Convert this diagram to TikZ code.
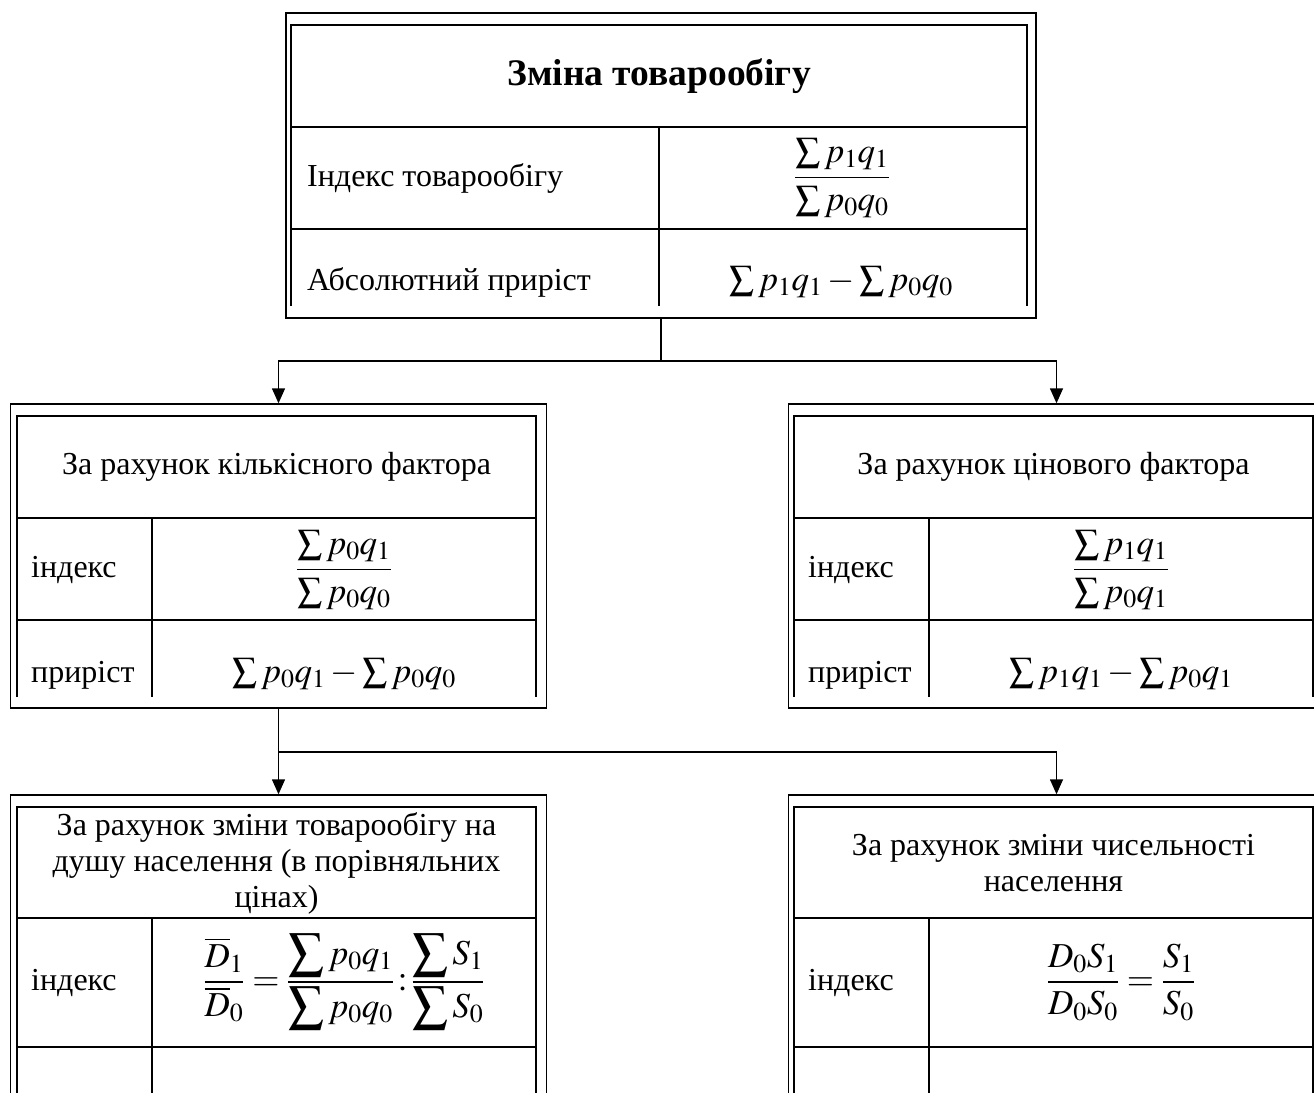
\documentclass[tikz,border=0pt]{standalone}
\usepackage{amsmath}
\usepackage{mathptmx}
\usepackage{fontspec}
\setmainfont{Liberation Serif}
\usetikzlibrary{arrows.meta}

\tikzset{
  frame/.style={draw, line width=1.4pt, inner sep=0pt, minimum width=536pt},
  tab/.style={line width=1.8pt},
  arr/.style={line width=1.4pt, -{Triangle[length=15pt,width=13pt]}},
  txt/.style={font=\fontsize{32}{36}\selectfont, inner sep=0pt},
  mth/.style={font=\fontsize{35}{40}\selectfont, inner sep=0pt},
}

\begin{document}
\begin{tikzpicture}[x=1pt,y=-1pt]
\useasboundingbox (0,0) rectangle (1314,1092);
\clip (0,0) rectangle (1314,1092);

% frames
\node[frame, minimum width=750pt, minimum height=305pt] (top) at (661,165.5) {};
\node[frame, minimum height=304pt] (midL) at (278.5,556) {};
\node[frame, minimum height=304pt] (midR) at (1056.5,556) {};
\node[frame, minimum height=400pt] (botL) at (278.5,995) {};
\node[frame, minimum height=400pt] (botR) at (1056.5,995) {};

% connectors
\coordinate (fork1) at (661,361);
\coordinate (fork2) at (278.5,752);
\draw[line width=1.4pt] (top.south) -- (fork1);
\draw[arr] (fork1) -| (midL.north);
\draw[arr] (fork1) -| (midR.north);
\draw[line width=1.4pt] (midL.south) -- (fork2);
\draw[arr] (fork2) -- (botL.north);
\draw[arr] (fork2) -| (botR.north);

% table lines
\draw[tab] (291,306) |- (1027,25) -- (1027,306);
\draw[tab] (291,127) -- (1027,127) (291,229) -- (1027,229) (659,127) -- (659,306);
\foreach \dx in {0,777} {
  \draw[tab] (17+\dx,697) |- (536+\dx,416) -- (536+\dx,697);
  \draw[tab] (17+\dx,518) -- (536+\dx,518) (17+\dx,620) -- (536+\dx,620) (152+\dx,518) -- (152+\dx,697);
  \draw[tab] (17+\dx,1100) |- (536+\dx,807) -- (536+\dx,1100);
  \draw[tab] (17+\dx,918) -- (536+\dx,918) (17+\dx,1047) -- (536+\dx,1047) (152+\dx,918) -- (152+\dx,1100);
}

% top table
\node[txt, font=\bfseries\fontsize{37.5}{42}\selectfont] (title) at (659,76) {Зміна товарообігу};
\node[txt, anchor=west] (topIdx) at (307,178) {Індекс товарообігу};
\node[mth] (topIdxF) at (842,178) {$\displaystyle\frac{\sum p_1q_1}{\sum p_0q_0}$};
\node[txt, anchor=base west] (topAbs) at (307,290) {Абсолютний приріст};
\node[mth, anchor=base] (topAbsF) at (841,290) {$\sum p_1q_1-\sum p_0q_0$};

% quantity factor
\node[txt] (qTitle) at (276.5,467) {За рахунок кількісного фактора};
\node[txt, anchor=west] (qIdx) at (31,570) {індекс};
\node[mth] (qIdxF) at (344,570) {$\displaystyle\frac{\sum p_0q_1}{\sum p_0q_0}$};
\node[txt, anchor=base west] (qAbs) at (31,682) {приріст};
\node[mth, anchor=base] (qAbsF) at (344,682) {$\sum p_0q_1-\sum p_0q_0$};

% price factor
\node[txt] (pTitle) at (1053.5,467) {За рахунок цінового фактора};
\node[txt, anchor=west] (pIdx) at (808,570) {індекс};
\node[mth] (pIdxF) at (1121,570) {$\displaystyle\frac{\sum p_1q_1}{\sum p_0q_1}$};
\node[txt, anchor=base west] (pAbs) at (808,682) {приріст};
\node[mth, anchor=base] (pAbsF) at (1121,682) {$\sum p_1q_1-\sum p_0q_1$};

% per capita
\node[txt, align=center] (dTitle) at (276.5,863) {За рахунок зміни товарообігу на\\душу населення (в порівняльних\\цінах)};
\node[txt, anchor=west] (dIdx) at (31,983) {індекс};
\node[mth] (dIdxF) at (344,982) {$\displaystyle\frac{\overline{D}_1}{\overline{D}_0}=\frac{\displaystyle\sum p_0q_1}{\displaystyle\sum p_0q_0}\,{:}\,\frac{\displaystyle\sum S_1}{\displaystyle\sum S_0}$};

% population
\node[txt, align=center] (sTitle) at (1053.5,863) {За рахунок зміни чисельності\\населення};
\node[txt, anchor=west] (sIdx) at (808,983) {індекс};
\node[mth] (sIdxF) at (1121,982) {$\displaystyle\frac{D_0S_1}{D_0S_0}=\frac{S_1}{S_0}$};
\end{tikzpicture}
\end{document}
